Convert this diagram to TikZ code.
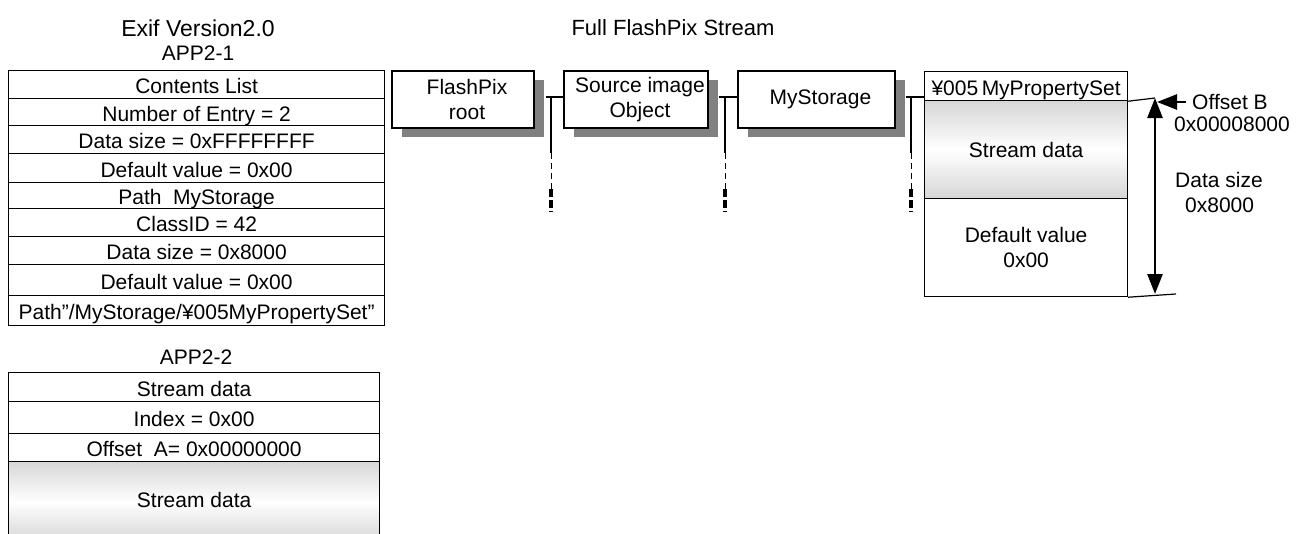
\documentclass[tikz,border=0pt]{standalone}
\usepackage{fontspec}
\setmainfont{Liberation Sans}
\usetikzlibrary{shadows,arrows.meta}
\begin{document}
\begin{tikzpicture}[x=1pt,y=-1pt,
  font=\fontsize{21}{25}\selectfont,
  >={Triangle[width=15pt,length=20pt]},
  low/.style={text height=18pt, text depth=0pt},
  cell/.style={draw, line width=1.2pt, inner sep=0pt, anchor=north west, minimum width=376pt, low},
  cellb/.style={draw, line width=1.2pt, inner sep=0pt, anchor=north west, minimum width=371pt, low},
  obj/.style={draw, line width=1.2pt, fill=white, inner sep=0pt, align=center, minimum height=57pt,
    drop shadow={shadow xshift=10pt, shadow yshift=-9pt, fill=black!50, opacity=1}},
  pcell/.style={draw, line width=1.2pt, inner sep=0pt, anchor=north west, minimum width=203pt, align=center},
  sgrad/.style={top color=black!16, bottom color=black!16, middle color=white},
  conn/.style={line width=1.2pt},
  tconn/.style={line width=1pt, dash pattern=on 6pt off 4pt},
  dconn/.style={line width=3.2pt, dash pattern=on 8pt off 3pt},
  lbl/.style={inner sep=0pt}
]
\useasboundingbox (0,0) rectangle (1296,533);

% titles
\node[lbl, font=\fontsize{23}{25}\selectfont] (t1) at (198,28) {Exif Version2.0};
\node[lbl] (t2) at (198,53) {APP2-1};
\node[lbl] (t3) at (196,357) {APP2-2};
\node[lbl, font=\fontsize{22}{25}\selectfont] (t4) at (673,28) {Full FlashPix Stream};

% APP2-1 table
\node[cell, minimum height=28pt] (r1) at (8,70) {Contents List};
\node[cell, minimum height=27pt] (r2) at (8,98) {Number of Entry = 2};
\node[cell, minimum height=28pt] (r3) at (8,125) {Data size = 0xFFFFFFFF};
\node[cell, minimum height=29pt] (r4) at (8,153) {Default value = 0x00};
\node[cell, minimum height=26pt] (r5) at (8,182) {Path\ \ MyStorage};
\node[cell, minimum height=28pt] (r6) at (8,208) {ClassID = 42};
\node[cell, minimum height=28pt] (r7) at (8,236) {Data size = 0x8000};
\node[cell, minimum height=31pt] (r8) at (8,264) {Default value = 0x00};
\node[cell, minimum height=30pt] (r9) at (8,295) {Path”/MyStorage/¥005MyPropertySet”};

% APP2-2 table
\node[cellb, minimum height=29pt] (s1) at (8,372) {Stream data};
\node[cellb, minimum height=32pt] (s2) at (8,401) {Index = 0x00};
\node[cellb, minimum height=28pt] (s3) at (8,433) {Offset\ \ A= 0x00000000};
\node[cellb, sgrad, minimum height=80pt, text height=15pt, text depth=4pt] (s4) at (8,461) {Stream data};

% FlashPix objects
\node[obj, minimum width=142pt] (fp) at (463,99.5) {\hspace*{8pt}FlashPix\\\hspace*{8pt}root};
\node[obj, minimum width=144pt] (src) at (636,99.5) {\hspace*{8pt}Source image\\\hspace*{8pt}Object};
\node[obj, minimum width=157pt] (ms) at (816.5,99.5) {\hspace*{8pt}MyStorage};

% property set
\node[pcell, minimum height=29pt, low] (ps) at (924,71) {¥005\,MyPropertySet};
\node[pcell, sgrad, minimum height=98pt] (sd) at (924,100) {Stream data};
\node[pcell, minimum height=98pt] (dv) at (924,198) {Default value\\0x00};

% connectors
\coordinate (j1) at (551,97);
\coordinate (m1) at (551,153);
\coordinate (n1) at (551,189);
\coordinate (d1) at (551,212);
\coordinate (j2) at (725,97);
\coordinate (m2) at (725,153);
\coordinate (n2) at (725,189);
\coordinate (d2) at (725,212);
\coordinate (j3) at (911,97);
\coordinate (m3) at (911,153);
\coordinate (n3) at (911,189);
\coordinate (d3) at (911,212);
\draw[conn] ([xshift=11pt]fp.east |- j1) -- (j1 -| src.west);
\draw[conn] (j1) -- (m1);
\draw[tconn] (m1) -- (n1);
\draw[dconn] (n1) -- (d1);
\draw[conn] ([xshift=10pt]src.east |- j2) -- (j2 -| ms.west);
\draw[conn] (j2) -- (m2);
\draw[tconn] (m2) -- (n2);
\draw[dconn] (n2) -- (d2);
\draw[conn] ([xshift=10pt]ms.east |- j3) -- (j3 -| ps.west);
\draw[conn] (j3) -- (m3);
\draw[tconn] (m3) -- (n3);
\draw[dconn] (n3) -- (d3);

% data size arrow and offset B
\coordinate (at) at (1155,98);
\coordinate (ab) at (1155,294);
\coordinate (bl) at (1176,294);
\coordinate (ob) at (1186,102);
\coordinate (oe) at (1157,102);
\draw[conn] (ps.south east) -- (at);
\draw[conn] (dv.south east) -- (bl);
\draw[line width=2.6pt, <->] (at) -- (ab);
\draw[line width=2.6pt, ->] (ob) -- (oe);

\node[lbl, anchor=west] (lob) at (1192,102) {Offset B};
\node[lbl, anchor=west] (lobv) at (1174,124) {0x00008000};
\node[lbl, anchor=west] (lds) at (1175,180) {Data size};
\node[lbl, anchor=west] (ldsv) at (1185,205) {0x8000};
\end{tikzpicture}
\end{document}
